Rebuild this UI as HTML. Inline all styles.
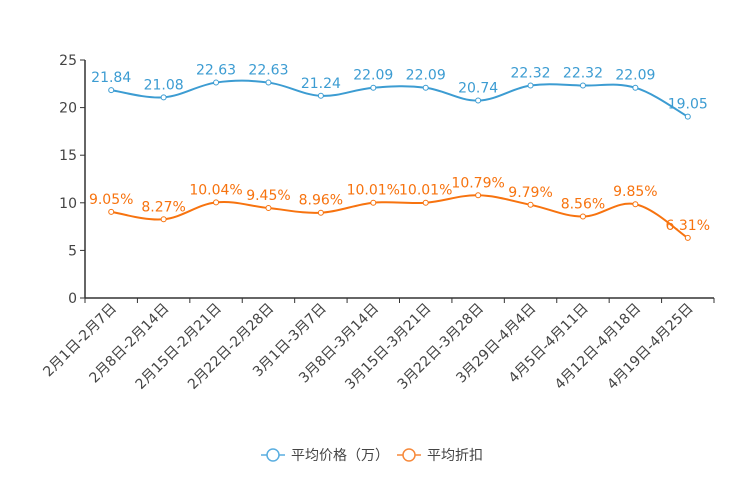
<!DOCTYPE html>
<html><head><meta charset="utf-8">
<style>
body{margin:0;background:#fff;}
svg{display:block;font-family:"DejaVu Sans","Noto Sans CJK SC",sans-serif;}
</style></head>
<body>
<svg id="chart" width="744" height="496" viewBox="0 0 744 496"></svg>
<script>
const categories=["2月1日-2月7日","2月8日-2月14日","2月15日-2月21日","2月22日-2月28日","3月1日-3月7日","3月8日-3月14日","3月15日-3月21日","3月22日-3月28日","3月29日-4月4日","4月5日-4月11日","4月12日-4月18日","4月19日-4月25日"];
const priceValues=[21.84,21.08,22.63,22.63,21.24,22.09,22.09,20.74,22.32,22.32,22.09,19.05];
const discountValues=[9.05,8.27,10.04,9.45,8.96,10.01,10.01,10.79,9.79,8.56,9.85,6.31];
const yTicks=[0,5,10,15,20,25];
const seriesNames=["平均价格（万）","平均折扣"];

const NS="http://www.w3.org/2000/svg";
const svg=document.getElementById('chart');
const X0=85,X1=714,Y0=298,Y1=60,YMAX=25;
const band=(X1-X0)/categories.length;
const xs=i=>X0+band*(i+0.5);
const ys=v=>Y0-(v/YMAX)*(Y0-Y1);
function el(t,a,p){const e=document.createElementNS(NS,t);for(const k in a)e.setAttribute(k,a[k]);(p||svg).appendChild(e);return e;}

const yAxis=el('g',{});


el('line',{x1:X0,y1:Y1,x2:X0,y2:Y0,stroke:'#333','stroke-width':1.5},yAxis);
yTicks.forEach(t=>{
  el('line',{x1:X0-5,y1:ys(t),x2:X0,y2:ys(t),stroke:'#333'},yAxis);
  const tx=el('text',{x:X0-8,y:ys(t)+5,'text-anchor':'end','font-size':14,fill:'#444'},yAxis);
  tx.textContent=t;
  
  
});
const xAxis=el('g',{});


el('line',{x1:X0,y1:Y0,x2:X1,y2:Y0,stroke:'#333','stroke-width':1.5},xAxis);
for(let i=0;i<=categories.length;i++){el('line',{x1:X0+band*i,y1:Y0,x2:X0+band*i,y2:Y0+5,stroke:'#333'},xAxis);}
categories.forEach((c,i)=>{
  const tx=el('text',{x:0,y:0,'text-anchor':'end','font-size':14,fill:'#444',transform:`translate(${xs(i)+6},${Y0+11}) rotate(-45)`},xAxis);
  tx.textContent=c;
  
  
});

function smoothPath(pts){
  let d=`M${pts[0][0]},${pts[0][1]}`;
  const t=0.18;
  for(let i=0;i<pts.length-1;i++){
    const p0=pts[i-1]||pts[i],p1=pts[i],p2=pts[i+1],p3=pts[i+2]||p2;
    const c1=[p1[0]+(p2[0]-p0[0])*t,p1[1]+(p2[1]-p0[1])*t];
    const c2=[p2[0]-(p3[0]-p1[0])*t,p2[1]-(p3[1]-p1[1])*t];
    d+=`C${c1[0]},${c1[1]} ${c2[0]},${c2[1]} ${p2[0]},${p2[1]}`;
  }
  return d;
}
function series(vals,color,name,fmt){
  const g=el('g',{});
  
  
  const pts=vals.map((v,i)=>[xs(i),ys(v)]);
  el('path',{d:smoothPath(pts),fill:'none',stroke:color,'stroke-width':2},g);
  pts.forEach((p,i)=>{
    const c=el('circle',{cx:p[0],cy:p[1],r:2.5,fill:'#fff',stroke:color,'stroke-width':1},g);
    
    
    const tx=el('text',{x:p[0],y:p[1]-8,'text-anchor':'middle','font-size':14,fill:color},g);
    tx.textContent=fmt(vals[i]);
    
    
  });
}
series(priceValues,'#3c9cd2','price-series',v=>v.toFixed(2));
series(discountValues,'#f7730f','discount-series',v=>v.toFixed(2)+'%');

const lg=el('g',{});


function legendItem(x,color,label){
  const g=el('g',{},lg);
  
  
  el('line',{x1:x,y1:455,x2:x+24,y2:455,stroke:color,'stroke-width':1.5},g);
  el('circle',{cx:x+12,cy:455,r:6,fill:'#fff',stroke:color,'stroke-width':1.5},g);
  const t=el('text',{x:x+30,y:460,'font-size':14,fill:'#444'},g);
  t.textContent=label;
}
legendItem(261,'#5aaee0',seriesNames[0]);
legendItem(397,'#f7893a',seriesNames[1]);
</script>
</body></html>
